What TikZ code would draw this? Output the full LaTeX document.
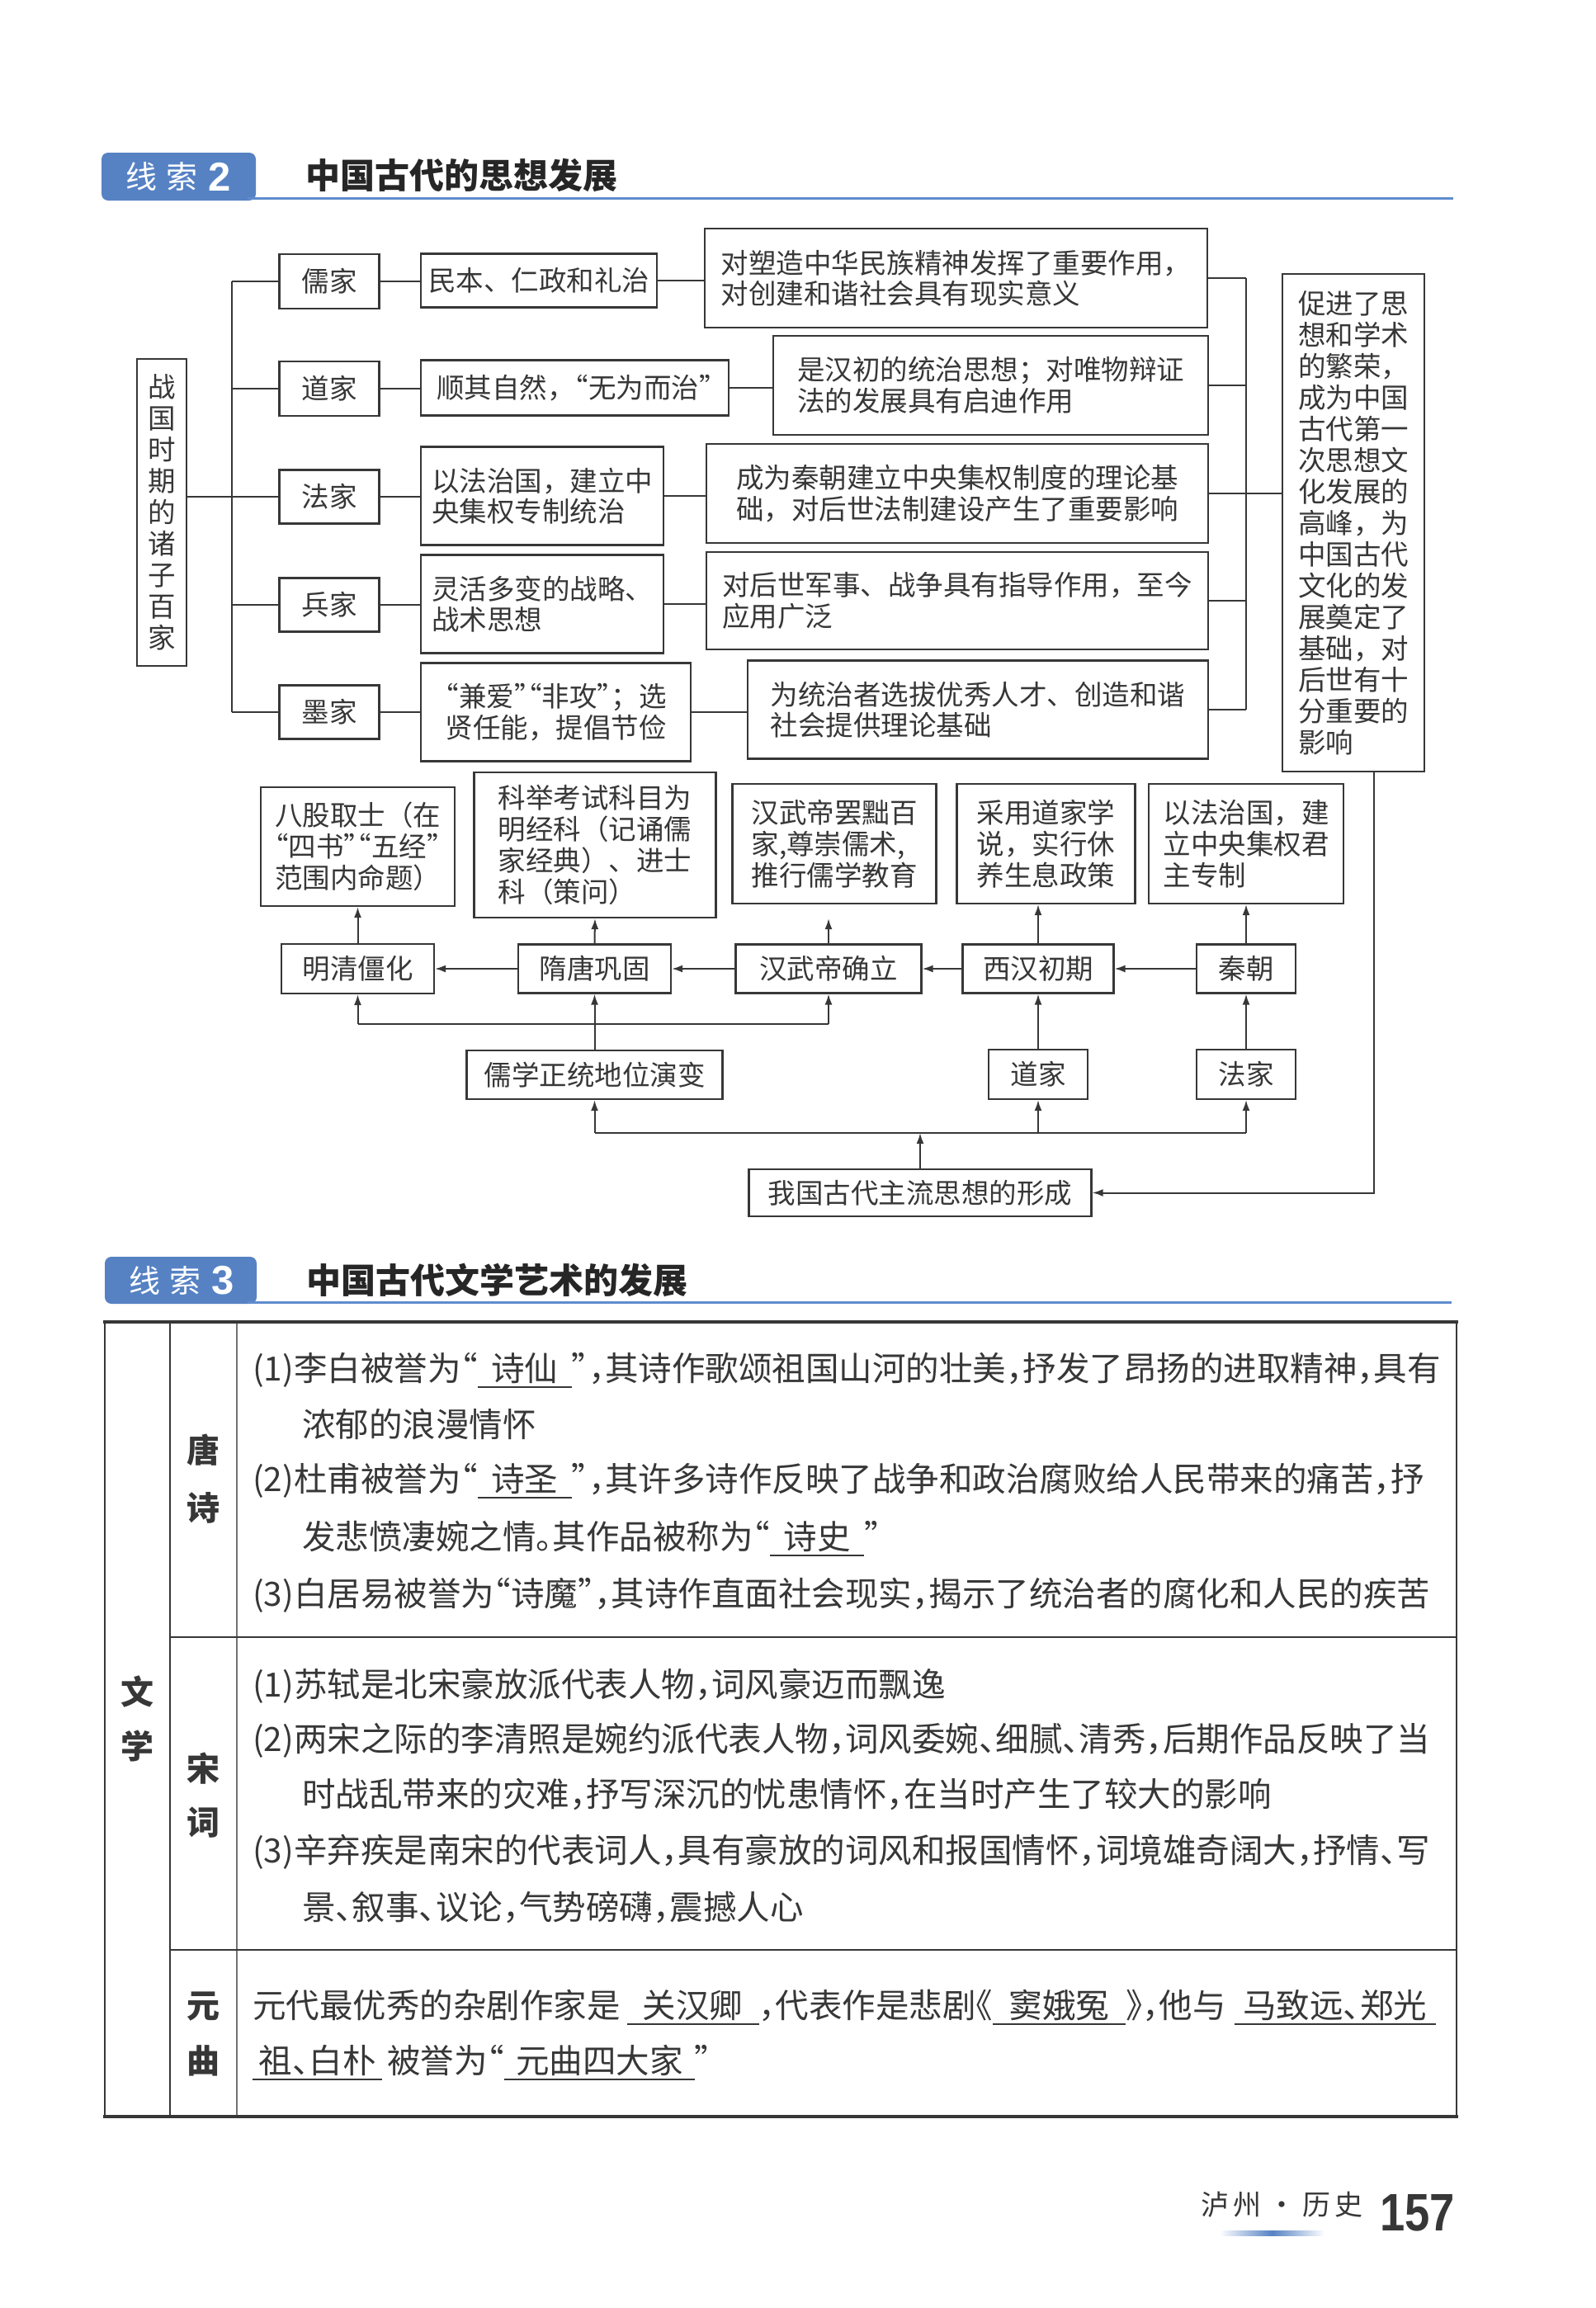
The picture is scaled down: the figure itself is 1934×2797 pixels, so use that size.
\documentclass[tikz,border=0pt]{standalone}
\usepackage{fontspec}
\usepackage{graphicx}
\setmainfont{Noto Sans CJK SC}
\newfontfamily\tabfont[RawFeature=+halt]{Noto Sans CJK SC}
\newfontfamily\numfont{Liberation Sans}
\usetikzlibrary{arrows.meta,calc}
\definecolor{ink}{RGB}{55,55,55}
\definecolor{tabblue}{RGB}{86,130,196}
\definecolor{lineblue}{RGB}{95,140,205}
\newcommand\dfs{\fontsize{33.5}{37.5}\selectfont}
\newcommand\vfs{\fontsize{33.5}{38}\selectfont}
\newcommand\tfs{\tabfont\fontsize{40.5}{41}\selectfont}
\newcommand\lfs{\bfseries\fontsize{40}{40}\selectfont}
\newcommand\oq{{\tabfont “}}
\newcommand\cq{{\tabfont ”}}
\newcommand\ans[2]{\makebox[#1pt][c]{#2}\llap{\rule[-9pt]{#1pt}{2pt}}}
\begin{document}
\begin{tikzpicture}[x=1pt,y=-1pt,
  dbox/.style={draw=ink,line width=2.2pt,inner sep=0pt,text=ink,font=\dfs,align=left},
  conn/.style={draw=ink,line width=2pt},
  arr/.style={draw=ink,line width=2pt,-{Latex[length=13pt,width=9pt]}},
  tline/.style={anchor=base west,inner sep=0pt,text=ink,font=\tfs},
  lab/.style={inner sep=0pt,text=ink,font=\lfs},
  tabtxt/.style={inner sep=0pt,text=white,font=\fontsize{38}{38}\selectfont},
  tabdig/.style={inner sep=0pt,text=white,font=\numfont\bfseries\fontsize{49}{49}\selectfont},
  ttl/.style={anchor=west,inner sep=0pt,text=black!85,font=\bfseries\fontsize{42}{42}\selectfont}]
\useasboundingbox (0,0) rectangle (1934,2797);
\fill[white] (0,0) rectangle (1934,2797);

% ---------- header 2 ----------
\fill[tabblue,rounded corners=8pt] (123,185) rectangle (310,243);
\draw[lineblue,line width=3pt] (300,240) -- (1761,240);
\node[tabtxt] (t2a) at (196,214) {线\hspace{12pt}索};
\node[tabdig] (t2b) at (266,214) {2};
\node[ttl] (h2) at (370,213) {中国古代的思想发展};

% ---------- schools ----------
\node[dbox,align=center,font=\vfs,minimum width=60pt,minimum height=372pt] (zgs) at (196,621) {战\\国\\时\\期\\的\\诸\\子\\百\\家};
\node[dbox,minimum width=121pt,minimum height=66pt] (rj) at (399,341) {儒家};
\node[dbox,minimum width=121pt,minimum height=66pt] (dj) at (399,471) {道家};
\node[dbox,minimum width=121pt,minimum height=65pt] (fj) at (399,602) {法家};
\node[dbox,minimum width=121pt,minimum height=65pt] (bj) at (399,733) {兵家};
\node[dbox,minimum width=121pt,minimum height=65pt] (mj) at (399,863) {墨家};

\node[dbox,minimum width=286pt,minimum height=65pt] (rj2) at (653,340) {民本、仁政和礼治};
\node[dbox,minimum width=373pt,minimum height=67pt] (dj2) at (696.5,470) {顺其自然，\oq 无为而治\cq};
\node[dbox,minimum width=294pt,minimum height=119pt] (fj2) at (657,601) {以法治国，建立中\\央集权专制统治};
\node[dbox,minimum width=294pt,minimum height=119pt] (bj2) at (657,732) {灵活多变的战略、\\战术思想};
\node[dbox,minimum width=327pt,minimum height=119pt] (mj2) at (673.5,863) {\oq 兼爱\cq\oq 非攻\cq；选\\贤任能，提倡节俭};

\node[dbox,minimum width=609pt,minimum height=120pt] (rj3) at (1158.5,337) {对塑造中华民族精神发挥了重要作用，\\对创建和谐社会具有现实意义};
\node[dbox,minimum width=527pt,minimum height=120pt] (dj3) at (1200.5,467) {是汉初的统治思想；对唯物辩证\\法的发展具有启迪作用};
\node[dbox,minimum width=608pt,minimum height=120pt] (fj3) at (1160,598) {成为秦朝建立中央集权制度的理论基\\础，对后世法制建设产生了重要影响};
\node[dbox,minimum width=608pt,minimum height=118pt] (bj3) at (1160,728) {对后世军事、战争具有指导作用，至今\\应用广泛};
\node[dbox,minimum width=558pt,minimum height=119pt] (mj3) at (1185,860) {为统治者选拔优秀人才、创造和谐\\社会提供理论基础};

\node[dbox,font=\vfs,minimum width=172pt,minimum height=603pt] (cjs) at (1640,633.5) {促进了思\\想和学术\\的繁荣，\\成为中国\\古代第一\\次思想文\\化发展的\\高峰，为\\中国古代\\文化的发\\展奠定了\\基础，对\\后世有十\\分重要的\\影响};

\coordinate (trk) at (281,0);
\coordinate (brk) at (1510,0);
\draw[conn] (zgs.east |- fj.west) -- (fj.west);
\draw[conn] (rj.west -| trk) -- (mj.west -| trk);
\foreach \n in {rj,dj,bj,mj} \draw[conn] (\n.west -| trk) -- (\n.west);
\foreach \a/\b in {rj/rj2,dj/dj2,fj/fj2,bj/bj2,mj/mj2} \draw[conn] (\a.east) -- (\a.east -| \b.west);
\foreach \a/\b in {rj2/rj3,dj2/dj3,fj2/fj3,bj2/bj3,mj2/mj3} \draw[conn] (\a.east) -- (\a.east -| \b.west);
\foreach \n in {rj3,dj3,fj3,bj3,mj3} \draw[conn] (\n.east) -- (\n.east -| brk);
\draw[conn] (rj3.east -| brk) -- (mj3.east -| brk);
\draw[conn] (brk |- fj3.east) -- (cjs.west |- fj3.east);

% ---------- lower flow ----------
\node[dbox,font=\vfs,minimum width=235pt,minimum height=144pt] (bg) at (433.5,1026) {八股取士（在\\\oq 四书\cq\oq 五经\cq\\范围内命题）};
\node[dbox,font=\vfs,minimum width=293pt,minimum height=176pt] (kj) at (721,1024) {科举考试科目为\\明经科（记诵儒\\家经典）、进士\\科（策问）};
\node[dbox,font=\vfs,minimum width=247pt,minimum height=145pt] (hw) at (1011,1022.5) {汉武帝罢黜百\\家,尊崇儒术,\\推行儒学教育};
\node[dbox,font=\vfs,minimum width=216pt,minimum height=145pt] (cy) at (1267.5,1022.5) {采用道家学\\说，实行休\\养生息政策};
\node[dbox,font=\vfs,minimum width=236pt,minimum height=145pt] (yf) at (1510,1022.5) {以法治国，建\\立中央集权君\\主专制};

\node[dbox,minimum width=185pt,minimum height=60pt] (mq) at (433.5,1174) {明清僵化};
\node[dbox,minimum width=185pt,minimum height=59pt] (st) at (720.5,1174) {隋唐巩固};
\node[dbox,minimum width=225pt,minimum height=59pt] (hq) at (1004,1174) {汉武帝确立};
\node[dbox,minimum width=183pt,minimum height=59pt] (xh) at (1258,1174) {西汉初期};
\node[dbox,minimum width=120pt,minimum height=59pt] (qc) at (1510,1174) {秦朝};

\node[dbox,minimum width=310pt,minimum height=59pt] (rx) at (720.5,1302.5) {儒学正统地位演变};
\node[dbox,minimum width=120pt,minimum height=60pt] (dj4) at (1258,1302) {道家};
\node[dbox,minimum width=120pt,minimum height=60pt] (fj4) at (1510,1302) {法家};
\node[dbox,minimum width=415pt,minimum height=57pt] (wg) at (1115,1445.5) {我国古代主流思想的形成};

\coordinate (cjo) at ($(cjs.south)+(25,0)$);
\draw[arr] (cjo) |- (wg.east);

\draw[arr] (qc.west) -- (xh.east);
\draw[arr] (xh.west) -- (hq.east);
\draw[arr] (hq.west) -- (st.east);
\draw[arr] (st.west) -- (mq.east);

\draw[arr] (mq.north) -- (bg.south);
\draw[arr] (st.north) -- (kj.south);
\draw[arr,shorten >=17pt] (hq.north) -- (hq.north |- hw.south);
\draw[arr] (xh.north) -- (xh.north |- cy.south);
\draw[arr] (qc.north) -- (yf.south);

\coordinate (jl) at (0,1241);
\coordinate (jb) at (0,1373);
\draw[arr] (rx.north) -- (st.south);
\draw[conn] (mq.south |- jl) -- (hq.south |- jl);
\draw[arr] (mq.south |- jl) -- (mq.south);
\draw[arr] (hq.south |- jl) -- (hq.south);
\draw[arr] (dj4.north) -- (xh.south);
\draw[arr] (fj4.north) -- (qc.south);

\draw[arr] (wg.north) -- (wg.north |- jb);
\draw[conn] (rx.south |- jb) -- (fj4.south |- jb);
\draw[arr] (rx.south |- jb) -- (rx.south);
\draw[arr] (dj4.south |- jb) -- (dj4.south);
\draw[arr] (fj4.south |- jb) -- (fj4.south);

% ---------- header 3 ----------
\fill[tabblue,rounded corners=8pt] (127,1523) rectangle (311,1580);
\draw[lineblue,line width=3pt] (300,1578) -- (1759,1578);
\node[tabtxt] (t3a) at (200,1552) {线\hspace{12pt}索};
\node[tabdig] (t3b) at (270,1552) {3};
\node[ttl] (h3) at (371,1551) {中国古代文学艺术的发展};

% ---------- table ----------
\draw[ink,line width=2.5pt] (127,1602) -- (127,2565);
\draw[ink,line width=2.5pt] (1765,1602) -- (1765,2565);
\draw[ink,line width=2pt] (206,1602) -- (206,2565);
\draw[ink!70,line width=1.2pt] (287,1602) -- (287,2565);
\draw[ink,line width=2.5pt] (206,1984) -- (1765,1984);
\draw[ink,line width=2.5pt] (206,2363) -- (1765,2363);
\draw[ink,line width=4pt] (125,1602) -- (1767,1602);
\draw[ink,line width=4pt] (125,2565) -- (1767,2565);

\node[lab] (wx1) at (166,2050) {文};
\node[lab] (wx2) at (166,2116) {学};
\node[lab] (ts1) at (246,1757) {唐};
\node[lab] (ts2) at (246,1827) {诗};
\node[lab] (sc1) at (246,2143) {宋};
\node[lab] (sc2) at (246,2209) {词};
\node[lab] (yq1) at (246,2432) {元};
\node[lab] (yq2) at (246,2497) {曲};

\node[tline] (l1) at (306,1673) {(1)李白被誉为“\ans{114}{诗仙}”，其诗作歌颂祖国山河的壮美，抒发了昂扬的进取精神，具有};
\node[tline] (l2) at (366,1741) {浓郁的浪漫情怀};
\node[tline] (l3) at (306,1807) {(2)杜甫被誉为“\ans{114}{诗圣}”，其许多诗作反映了战争和政治腐败给人民带来的痛苦，抒};
\node[tline] (l4) at (366,1877) {发悲愤凄婉之情。其作品被称为“\ans{114}{诗史}”};
\node[tline] (l5) at (306,1946) {(3)白居易被誉为“诗魔”，其诗作直面社会现实，揭示了统治者的腐化和人民的疾苦};

\node[tline] (s1) at (306,2056) {(1)苏轼是北宋豪放派代表人物，词风豪迈而飘逸};
\node[tline] (s2) at (306,2122) {(2)两宋之际的李清照是婉约派代表人物，词风委婉、细腻、清秀，后期作品反映了当};
\node[tline] (s3) at (366,2189) {时战乱带来的灾难，抒写深沉的忧患情怀，在当时产生了较大的影响};
\node[tline] (s4) at (306,2257) {(3)辛弃疾是南宋的代表词人，具有豪放的词风和报国情怀，词境雄奇阔大，抒情、写};
\node[tline] (s5) at (366,2326) {景、叙事、议论，气势磅礴，震撼人心};

\node[tline] (y1) at (306,2445) {元代最优秀的杂剧作家是\hspace{8pt}\ans{160}{关汉卿}，代表作是悲剧《\ans{161}{窦娥冤}》，他与\hspace{10pt}\ans{244}{马致远、郑光}};
\node[tline] (y2) at (306,2512) {\ans{157}{祖、白朴}\hspace{6pt}被誉为“\ans{231}{元曲四大家}”};

% ---------- footer ----------
\node[anchor=west,inner sep=0pt,text=ink,font=\fontsize{34}{34}\selectfont] (ft) at (1455,2672) {泸\hspace{5pt}州\hspace{8pt}·\hspace{8pt}历\hspace{5pt}史};
\shade[left color=white,right color=white,middle color=tabblue] (1478,2703) rectangle (1605,2709);
\node[anchor=base west,inner sep=0pt,text=ink,font=\numfont\bfseries\fontsize{64}{64}\selectfont] (pg) at (1672,2703) {\scalebox{0.85}[1]{157}};
\end{tikzpicture}
\end{document}
